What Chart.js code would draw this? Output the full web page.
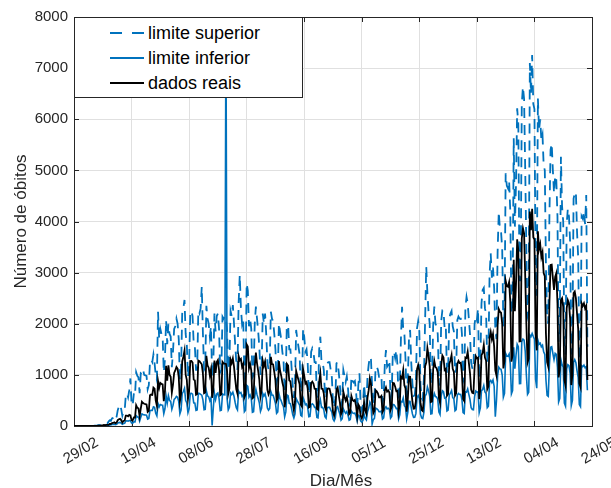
<!DOCTYPE html>
<html lang="pt">
<head>
<meta charset="utf-8">
<title>Número de óbitos</title>
<script src="https://cdn.jsdelivr.net/npm/chart.js@4.4.1/dist/chart.umd.min.js"></script>
<style>
  html, body { margin: 0; padding: 0; background: #fff; }
  #wrap { position: relative; width: 611px; height: 488px; }
  #legend {
    position: absolute; left: 74px; top: 17px; width: 229px; height: 81px;
    box-sizing: border-box; background: #fff; border: 1px solid #262626;
    font-family: 'Liberation Sans', Arial, Helvetica, sans-serif; font-size: 18px; color: #000;
  }
  #legend .item { position: absolute; left: 0; height: 24px; display: flex; align-items: center; white-space: nowrap; }
  #legend svg { margin-left: 35px; margin-right: 4px; }
</style>
</head>
<body>
<div id="wrap">
  <canvas id="chart" width="611" height="488"></canvas>
  <div id="legend">
    <div class="item" style="top:3px"><svg width="34" height="4"><line x1="0" y1="2" x2="34" y2="2" stroke="#0072BD" stroke-width="2" stroke-dasharray="12 10"/></svg>limite superior</div>
    <div class="item" style="top:28px"><svg width="34" height="4"><line x1="0" y1="2" x2="34" y2="2" stroke="#0072BD" stroke-width="2"/></svg>limite inferior</div>
    <div class="item" style="top:53px"><svg width="34" height="4"><line x1="0" y1="2" x2="34" y2="2" stroke="#000" stroke-width="2"/></svg>dados reais</div>
  </div>
</div>
<script>
// x axis: days since 29/02, one tick every 50 days
const xTickDays = [0, 50, 100, 150, 200, 250, 300, 350, 400, 450];
const xTickLabels = ['29/02', '19/04', '08/06', '28/07', '16/09', '05/11', '25/12', '13/02', '04/04', '24/05'];
const yTicks = [0, 1000, 2000, 3000, 4000, 5000, 6000, 7000, 8000];

// daily values, one row per week
const dadosReais = [
  0,0,0,0,0,0,0, 0,0,0,0,0,0,0, 0,0,0,1,3,3,4, 7,7,9,12,11,20,15,
  22,22,23,42,40,58,60, 73,54,67,114,133,141,115, 68,99,105,204,204,188,217, 206,115,113,166,165,407,357,
  346,189,338,474,449,435,428, 421,275,296,600,615,610,751, 730,496,396,881,749,844,824, 816,485,674,1179,888,1188,1001,
  965,653,807,1039,1086,1156,1124, 956,480,623,1262,1349,1473,1005, 904,525,679,1272,1274,1239,909, 892,612,627,1282,1269,1238,1206,
  1022,641,654,1374,1185,1141,990, 1109,552,692,1280,1038,1252,1290, 1091,602,620,1254,1223,1220,1214, 1071,631,733,1300,1233,1322,1163,
  921,716,632,1367,1284,1311,1156, 1211,555,614,1595,1554,1129,1212, 1088,541,561,1154,1437,1226,1079, 905,572,703,1274,1175,1262,1060,
  709,620,684,1352,1212,1204,1054, 892,494,551,1271,1085,984,855, 758,366,553,1215,1184,888,874, 682,447,310,476,1075,983,899,
  814,415,381,1113,987,829,858, 739,363,377,836,869,831,729, 728,335,317,863,1031,729,728, 639,366,309,721,734,730,631,
  543,278,201,309,716,754,599, 461,230,287,666,571,497,566, 432,231,259,586,510,490,510, 396,190,420,380,200,150,220,
  470,300,240,560,700,930,830, 450,250,300,700,680,640,560, 560,587,272,317,697,755,672, 694,654,313,376,842,836,770,
  680,686,279,433,964,936,1092, 797,736,279,529,968,963,708, 475,339,344,483,1111,1194,1074, 462,314,293,543,1171,1242,1524,
  1379,1171,469,480,1110,1274,1151, 1131,1050,551,452,1183,1382,1340, 1096,1119,592,627,1214,1283,1386, 1119,1060,595,639,1209,1274,1232,
  1239,1039,529,490,1340,1330,1452, 1239,1041,713,647,639,1149,1367, 1324,1337,527,713,1386,1428,1582, 1337,1275,721,778,1726,1840,1699,
  1800,1555,1086,987,1972,2286,2233, 2216,1997,1127,1275,2841,2736,2724, 2815,2438,1259,1383,3251,2244,2777, 3650,3439,1656,1660,3668,3869,3769,
  2922,1987,1240,1319,4195,3829,4249, 3693,3647,1824,1480,3808,3459,3560, 3305,3400,2990,2929,1800,1250,1160, 2400,3150,3157,2900,2660,2914,2990,
  2400,950,1100,2460,2500,2330,900, 790,2300,2460,2400,2100,800,1000, 2600,2630,2500,2200,1900,835,760, 2400,2350,2400,2300,2350,900
];

const limiteSuperior = [
  0,0,0,0,0,0,0, 0,0,0,0,0,0,0, 0,0,0,2,6,6,9, 16,15,20,28,25,45,34,
  55,50,85,110,100,150,160, 200,140,180,310,380,420,330, 200,290,300,600,640,560,700, 930,420,400,640,600,1050,980,
  950,640,1030,1010,1100,1000,990, 980,720,800,1250,1300,1250,1400, 1225,1000,900,2236,1700,1900,1800, 1750,1050,1300,2070,1600,2000,1800,
  1750,1150,1450,1900,1950,2100,2000, 1700,900,1100,2200,2300,2465,1800, 1600,950,1200,2200,2250,2150,1600, 1550,1100,1100,2250,2200,2300,2725,
  1800,1100,1150,2350,2100,2000,1750, 1950,950,1200,2200,1850,2150,2200, 1900,1050,1100,2140,2100,2150,2100, 1850,1100,1250,2250,2150,2367,2000,
  1600,1250,1100,2400,2954,2300,2000, 2100,950,1050,2790,2650,1950,2100, 1900,950,1000,2000,2334,2100,1850, 1550,1000,1200,2200,2000,2200,1800,
  1250,1100,1200,2236,2100,2050,1800, 1500,850,950,2008,1850,1700,1450, 1300,650,950,2140,2000,1500,1500, 1150,800,550,850,1878,1700,1550,
  1400,700,650,1900,1747,1450,1500, 1250,620,650,1450,1520,1450,1250, 1250,580,550,1500,1747,1250,1250, 1100,630,540,1226,1250,1250,1100,
  950,480,350,540,1226,1250,1050, 800,400,500,1095,980,860,970, 750,400,450,965,880,850,880, 690,330,800,1030,400,300,400,
  820,520,420,980,1200,1356,1300, 780,430,520,1160,1160,1100,960, 960,1000,470,550,1200,1487,1160, 1200,1290,540,650,1450,1450,1330,
  1487,1190,480,750,1700,2334,1900, 1813,1300,480,920,1700,1878,1230, 830,590,600,840,1910,2050,1850, 800,550,510,940,2050,3117,2600,
  2236,2000,820,840,1950,2334,2000, 1950,1800,960,790,2050,2260,2250, 1900,1950,1030,1100,2100,2200,2250, 1950,1850,1040,1110,2070,2140,2100,
  2100,1800,920,850,2300,2525,2400, 2100,1800,1240,1130,1100,2000,2140, 2070,2300,920,1240,2400,2660,2700, 2300,2200,1250,1350,2950,3377,2900,
  3100,2700,1900,1700,3400,4192,3850, 3800,3450,1950,2200,4942,4700,4650, 4800,4200,2200,2400,5627,3900,4750, 6214,5900,2850,2850,6300,6637,6400,
  5000,3400,2150,2250,7100,6500,7257, 6300,6200,3150,2550,6409,5790,6000, 5600,5700,5100,5000,3100,2150,2000, 4100,5400,5529,5000,4550,4900,4812,
  4100,1650,1900,5268,4300,4000,1550, 1400,3950,4250,4100,3600,1400,1750, 4450,4551,4584,3800,3300,1450,1300, 4100,4050,4200,3950,4518,1550
];

const limiteInferior = [
  0,0,0,0,0,0,0, 0,0,0,0,0,0,0, 0,0,0,0,1,1,2, 3,3,4,6,5,10,7,
  10,10,11,21,20,29,30, 36,27,33,57,66,70,57, 34,49,52,100,102,94,108, 103,57,56,83,82,203,178,
  173,94,169,237,224,217,214, 210,137,148,300,307,305,375, 365,248,198,440,374,422,412, 408,242,337,590,444,594,500,
  482,326,403,520,543,578,562, 478,240,311,631,674,736,502, 452,262,340,636,637,620,454, 446,306,313,641,634,619,603,
  511,320,327,687,592,570,495, 554,10,346,640,519,626,645, 545,301,310,627,611,610,7900, 535,315,366,650,616,661,581,
  460,358,316,683,642,655,578, 605,277,307,797,777,564,606, 544,270,280,577,718,613,539, 452,286,351,637,587,631,530,
  354,310,342,676,606,602,527, 446,247,275,635,542,492,427, 379,183,276,607,592,444,437, 341,223,155,238,537,491,449,
  407,207,190,556,493,414,429, 369,181,188,418,434,415,364, 364,167,158,431,515,364,364, 319,183,154,360,367,365,315,
  271,139,100,154,358,377,299, 230,115,143,333,285,248,283, 216,115,129,293,255,245,255, 198,95,210,190,100,75,110,
  235,150,120,280,350,465,415, 40,125,150,350,340,320,280, 280,293,136,158,348,377,336, 347,327,156,188,421,418,385,
  340,343,139,216,482,468,546, 398,368,139,264,484,481,354, 237,169,172,241,555,597,537, 231,157,146,271,585,621,762,
  689,585,234,240,555,637,575, 565,525,275,226,591,691,670, 548,559,296,313,607,641,693, 559,530,297,319,604,637,616,
  619,519,264,245,670,665,726, 619,520,356,323,319,574,683, 662,668,263,356,693,714,791, 668,637,360,389,863,890,849,
  900,777,180,493,986,1150,1116, 1108,998,563,637,1420,1368,1362, 1407,1219,629,691,1540,1122,1388, 1600,1550,828,830,1650,1700,1680,
  1461,993,620,660,1780,1750,1810, 1750,1700,912,740,1680,1600,1620, 1550,1580,1450,1400,900,600,580, 1200,1540,1550,1420,1300,1420,1400,
  1150,470,540,1300,1200,1150,450, 390,1120,1200,1180,1030,400,500, 1250,1300,1240,1080,950,420,380, 1180,1160,1190,1140,1160,700
];

const FONT = "'Liberation Sans', Arial, Helvetica, sans-serif";
const axisColor = '#262626';

function toPoints(values) {
    return values.map((v, i) => ({ x: i, y: v }));
}

// MATLAB-like box, inward ticks and labels
const matlabAxes = {
    id: 'matlabAxes',
    beforeDatasetsDraw(chart) {
        const { ctx, chartArea: a, scales: { x, y } } = chart;
        ctx.save();
        ctx.strokeStyle = axisColor;
        ctx.lineWidth = 1;
        ctx.strokeRect(a.left + 0.5, a.top + 0.5, a.right - a.left, a.bottom - a.top);
        ctx.beginPath();
        xTickDays.forEach(d => {
            const px = Math.round(x.getPixelForValue(d)) + 0.5;
            ctx.moveTo(px, a.bottom); ctx.lineTo(px, a.bottom - 5);
            ctx.moveTo(px, a.top); ctx.lineTo(px, a.top + 5);
        });
        yTicks.forEach(v => {
            const py = Math.round(y.getPixelForValue(v)) + 0.5;
            ctx.moveTo(a.left, py); ctx.lineTo(a.left + 5, py);
            ctx.moveTo(a.right, py); ctx.lineTo(a.right - 5, py);
        });
        ctx.stroke();
        ctx.restore();
    },
    afterDraw(chart) {
        const { ctx, chartArea: a, scales: { x, y } } = chart;
        ctx.save();
        ctx.fillStyle = axisColor;
        ctx.font = '15px ' + FONT;

        // y tick labels
        ctx.textAlign = 'right';
        ctx.textBaseline = 'middle';
        yTicks.forEach(v => ctx.fillText(String(v), a.left - 6, y.getPixelForValue(v)));

        // x tick labels, rotated 30 degrees
        ctx.textAlign = 'center';
        xTickDays.forEach((d, i) => {
            ctx.save();
            ctx.translate(x.getPixelForValue(d) + 7, a.bottom + 25);
            ctx.rotate(-Math.PI / 6);
            ctx.fillText(xTickLabels[i], 0, 0);
            ctx.restore();
        });

        // axis titles
        ctx.font = '17px ' + FONT;
        ctx.textBaseline = 'alphabetic';
        ctx.fillText('Dia/Mês', 341, 486);
        ctx.save();
        ctx.translate(26, (a.top + a.bottom) / 2);
        ctx.rotate(-Math.PI / 2);
        ctx.fillText('Número de óbitos', 0, 0);
        ctx.restore();
        ctx.restore();
    }
};

const gridColor = '#e0e0e0';

new Chart(document.getElementById('chart'), {
    type: 'line',
    data: {
        datasets: [
            {
                label: 'dados reais',
                data: toPoints(dadosReais),
                borderColor: '#000000',
                borderWidth: 1.8,
                order: 0
            },
            {
                label: 'limite inferior',
                data: toPoints(limiteInferior),
                borderColor: '#0072BD',
                borderWidth: 1.6,
                order: 1
            },
            {
                label: 'limite superior',
                data: toPoints(limiteSuperior),
                borderColor: '#0072BD',
                borderWidth: 1.8,
                borderDash: [10, 7],
                order: 2
            }
        ]
    },
    options: {
        responsive: false,
        animation: false,
        events: [],
        layout: { padding: { left: 74, right: 19, top: 17, bottom: 62 } },
        elements: {
            point: { radius: 0 },
            line: { tension: 0, fill: false }
        },
        plugins: {
            legend: { display: false },
            tooltip: { enabled: false }
        },
        scales: {
            x: {
                type: 'linear',
                min: 0,
                max: 450,
                ticks: { display: false, stepSize: 50 },
                grid: { color: gridColor, drawTicks: false },
                border: { display: false }
            },
            y: {
                min: 0,
                max: 8000,
                ticks: { display: false, stepSize: 1000 },
                grid: { color: gridColor, drawTicks: false },
                border: { display: false }
            }
        }
    },
    plugins: [matlabAxes]
});
</script>
</body>
</html>
